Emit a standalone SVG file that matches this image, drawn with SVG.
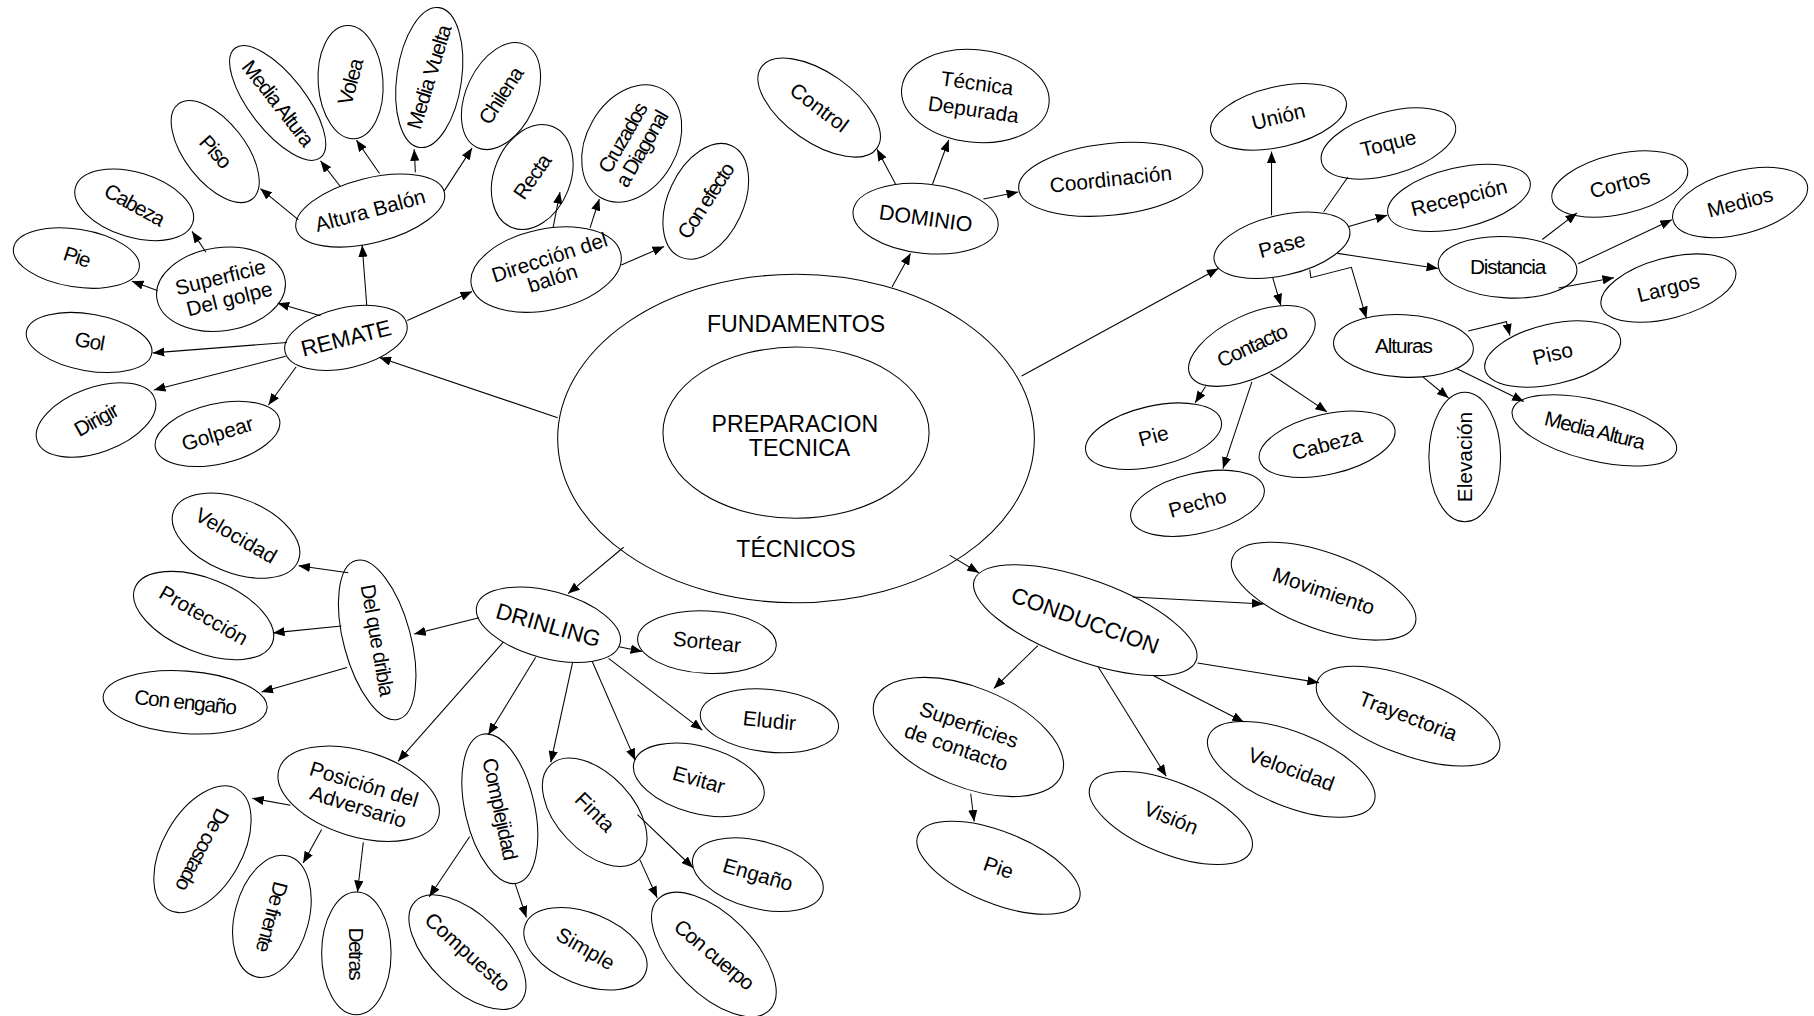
<svg xmlns="http://www.w3.org/2000/svg" width="1814" height="1016" viewBox="0 0 1814 1016">
<defs>
<style>
.n ellipse{fill:#fff;stroke:#000;stroke-width:0.9}
text{font-family:"Liberation Sans",Arial,sans-serif;font-size:18px;text-anchor:middle;fill:#000}
.k text{letter-spacing:-1px}
.kk text{letter-spacing:-1.4px}
.big{font-size:20px}
.cap text{font-size:19.5px}
#connectors line,#connectors polyline{stroke:#000;stroke-width:0.9;fill:none;marker-end:url(#ah)}
#connectors .plain{marker-end:none}
</style>
<marker id="ah" viewBox="0 0 10 8" refX="10" refY="4" markerWidth="10" markerHeight="8" markerUnits="userSpaceOnUse" orient="auto"><path d="M0,0L10,4L0,8z" fill="#000"/></marker>
</defs>
<rect width="1814" height="1016" fill="#fff"/>
<g transform="scale(1.157)">
<g id="fundamentos" class="n" transform="translate(688,379)"><ellipse rx="206" ry="142"/><text class="big" y="-92">FUNDAMENTOS</text><text class="big" y="102">TÉCNICOS</text></g>
<g id="preparacion" class="n" transform="translate(688,374)"><ellipse rx="115" ry="74"/><text class="big" x="-1" y="-1">PREPARACION</text><text class="big" x="3" y="20">TECNICA</text></g>

<g id="remate" class="n cap" transform="translate(299,292)"><ellipse rx="54" ry="26" transform="rotate(-13)"/><text transform="rotate(-14)" y="7">REMATE</text></g>
<g id="superficie" class="n" transform="translate(191,250)"><ellipse rx="56" ry="36" transform="rotate(-8)"/><text transform="rotate(-14)"><tspan x="2" y="-4">Superficie</tspan><tspan x="5" y="16">Del golpe</tspan></text></g>
<g id="altura-balon" class="n" transform="translate(320,182)"><ellipse rx="66" ry="28" transform="rotate(-14)"/><text transform="rotate(-15)" y="6">Altura Balón</text></g>
<g id="direccion" class="n" transform="translate(472,233)"><ellipse rx="66" ry="35" transform="rotate(-12)"/><text transform="rotate(-18)"><tspan x="6" y="-3">Dirección del</tspan><tspan x="3" y="15">balón</tspan></text></g>
<g id="pie-remate" class="n k" transform="translate(66,223)"><ellipse rx="55" ry="25" transform="rotate(9)"/><text transform="rotate(18)" y="5">Pie</text></g>
<g id="cabeza-remate" class="n k" transform="translate(116,177)"><ellipse rx="53" ry="28" transform="rotate(17)"/><text transform="rotate(29)" y="6">Cabeza</text></g>
<g id="piso-altura" class="n k" transform="translate(186,131)"><ellipse rx="52" ry="26" transform="rotate(52)"/><text transform="rotate(48)" y="6">Piso</text></g>
<g id="media-altura-altura" class="n k" transform="translate(240,89)"><ellipse rx="60" ry="24" transform="rotate(52)"/><text transform="rotate(52)" y="6">Media Altura</text></g>
<g id="volea" class="n k" transform="translate(303,71)"><ellipse rx="28" ry="49" transform="rotate(-4)"/><text transform="rotate(-75)" y="6">Volea</text></g>
<g id="media-vuelta" class="n k" transform="translate(371,67)"><ellipse rx="28" ry="61" transform="rotate(8)"/><text transform="rotate(-73)" y="6">Media Vuelta</text></g>
<g id="chilena" class="n k" transform="translate(433,83)"><ellipse rx="30" ry="49" transform="rotate(25)"/><text transform="rotate(-57)" y="6">Chilena</text></g>
<g id="gol" class="n k" transform="translate(77,296)"><ellipse rx="55" ry="24.5" transform="rotate(10)"/><text transform="rotate(10)" y="5">Gol</text></g>
<g id="dirigir" class="n k" transform="translate(83,363)"><ellipse rx="54" ry="28" transform="rotate(-20)"/><text transform="rotate(-29)" y="6">Dirigir</text></g>
<g id="golpear" class="n" transform="translate(188,375)"><ellipse rx="55" ry="26" transform="rotate(-13)"/><text transform="rotate(-17)" y="6">Golpear</text></g>
<g id="recta" class="n k" transform="translate(460,153)"><ellipse rx="33" ry="47" transform="rotate(22)"/><text transform="rotate(-55)" y="6">Recta</text></g>
<g id="cruzados" class="n kk" transform="translate(546,124)"><ellipse rx="39" ry="54" transform="rotate(30)"/><text transform="rotate(-60)"><tspan x="0" y="-3">Cruzados</tspan><tspan x="0" y="16">a Diagonal</tspan></text></g>
<g id="con-efecto" class="n kk" transform="translate(610,174)"><ellipse rx="32.5" ry="53" transform="rotate(25)"/><text transform="rotate(-57)" y="6">Con efecto</text></g>

<g id="dominio" class="n" transform="translate(800,189)"><ellipse rx="63" ry="30" transform="rotate(6)"/><text transform="rotate(8)" y="6" style="font-size:18.5px">DOMINIO</text></g>
<g id="control" class="n" transform="translate(708,93)"><ellipse rx="61" ry="30" transform="rotate(35)"/><text transform="rotate(37)" y="6">Control</text></g>
<g id="tecnica-depurada" class="n" transform="translate(843,83)"><ellipse rx="64" ry="40" transform="rotate(6)"/><text transform="rotate(8)"><tspan x="0" y="-5">Técnica</tspan><tspan x="0" y="18">Depurada</tspan></text></g>
<g id="coordinacion" class="n" transform="translate(960,155)"><ellipse rx="80" ry="31" transform="rotate(-6)"/><text transform="rotate(-6)" y="6">Coordinación</text></g>

<g id="pase" class="n" transform="translate(1108,212)"><ellipse rx="60" ry="26" transform="rotate(-13)"/><text transform="rotate(-15)" y="6">Pase</text></g>
<g id="union" class="n" transform="translate(1105,101)"><ellipse rx="60" ry="26" transform="rotate(-13)"/><text transform="rotate(-14)" y="6">Unión</text></g>
<g id="toque" class="n" transform="translate(1200,124)"><ellipse rx="60" ry="27" transform="rotate(-16)"/><text transform="rotate(-14)" y="6">Toque</text></g>
<g id="recepcion" class="n" transform="translate(1261,171)"><ellipse rx="63" ry="26" transform="rotate(-13)"/><text transform="rotate(-14)" y="6">Recepción</text></g>
<g id="distancia" class="n k" transform="translate(1303,231)"><ellipse rx="60" ry="26.5" transform="rotate(3)"/><text y="6">Distancia</text></g>
<g id="cortos" class="n" transform="translate(1400,159)"><ellipse rx="60" ry="26" transform="rotate(-13)"/><text transform="rotate(-15)" y="6">Cortos</text></g>
<g id="medios" class="n" transform="translate(1504,175)"><ellipse rx="60" ry="27" transform="rotate(-15)"/><text transform="rotate(-15)" y="6">Medios</text></g>
<g id="largos" class="n" transform="translate(1442,249)"><ellipse rx="60" ry="26" transform="rotate(-15)"/><text transform="rotate(-14)" y="6">Largos</text></g>
<g id="contacto" class="n k" transform="translate(1082,299)"><ellipse rx="59" ry="27" transform="rotate(-25)"/><text transform="rotate(-25)" y="6">Contacto</text></g>
<g id="alturas" class="n k" transform="translate(1213,299)"><ellipse rx="60.5" ry="27" transform="rotate(3)"/><text y="6">Alturas</text></g>
<g id="piso-pase" class="n" transform="translate(1342,306)"><ellipse rx="60" ry="26" transform="rotate(-13)"/><text transform="rotate(-13)" y="6">Piso</text></g>
<g id="media-altura-pase" class="n k" transform="translate(1378,372)"><ellipse rx="73" ry="26" transform="rotate(14)"/><text transform="rotate(14)" y="6">Media Altura</text></g>
<g id="elevacion" class="n" transform="translate(1266,395)"><ellipse rx="31" ry="56"/><text transform="rotate(-90)" y="6">Elevación</text></g>
<g id="pie-contacto" class="n" transform="translate(997,377)"><ellipse rx="60" ry="26" transform="rotate(-13)"/><text transform="rotate(-15)" y="6">Pie</text></g>
<g id="pecho" class="n" transform="translate(1035,435)"><ellipse rx="59" ry="26" transform="rotate(-13)"/><text transform="rotate(-16)" y="6">Pecho</text></g>
<g id="cabeza-contacto" class="n" transform="translate(1147,384)"><ellipse rx="60" ry="26" transform="rotate(-13)"/><text transform="rotate(-15)" y="6">Cabeza</text></g>

<g id="conduccion" class="n cap" transform="translate(938,536)"><ellipse rx="102" ry="35" transform="rotate(20)"/><text transform="rotate(20)" y="7">CONDUCCION</text></g>
<g id="movimiento" class="n" transform="translate(1144,511)"><ellipse rx="84" ry="33" transform="rotate(20)"/><text transform="rotate(19)" y="6">Movimiento</text></g>
<g id="trayectoria" class="n" transform="translate(1217,619)"><ellipse rx="84" ry="33" transform="rotate(21)"/><text transform="rotate(21)" y="6">Trayectoria</text></g>
<g id="velocidad-conduccion" class="n" transform="translate(1116,665)"><ellipse rx="77" ry="32" transform="rotate(22)"/><text transform="rotate(20)" y="6">Velocidad</text></g>
<g id="vision" class="n" transform="translate(1012,707)"><ellipse rx="75" ry="31" transform="rotate(22)"/><text transform="rotate(22)" y="6">Visión</text></g>
<g id="superficies" class="n" transform="translate(837,637)"><ellipse rx="87" ry="43" transform="rotate(22)"/><text transform="rotate(19)"><tspan x="-3" y="-4">Superficies</tspan><tspan x="-7" y="18">de contacto</tspan></text></g>
<g id="pie-superficies" class="n" transform="translate(863,750)"><ellipse rx="75" ry="31" transform="rotate(22)"/><text transform="rotate(19)" y="6">Pie</text></g>

<g id="drinling" class="n cap" transform="translate(474,540)"><ellipse rx="64" ry="29" transform="rotate(15)"/><text transform="rotate(16)" y="7">DRINLING</text></g>
<g id="del-que-dribla" class="n k" transform="translate(326,553)"><ellipse rx="29" ry="71" transform="rotate(-15)"/><text transform="rotate(80)" y="6">Del que dribla</text></g>
<g id="velocidad-drinling" class="n" transform="translate(204,463)"><ellipse rx="58" ry="32" transform="rotate(22)"/><text transform="rotate(30)" y="6">Velocidad</text></g>
<g id="proteccion" class="n" transform="translate(176,532)"><ellipse rx="64" ry="32" transform="rotate(22)"/><text transform="rotate(30)" y="6">Protección</text></g>
<g id="con-engano" class="n k" transform="translate(160,607)"><ellipse rx="71" ry="27" transform="rotate(4)"/><text transform="rotate(6)" y="6">Con engaño</text></g>
<g id="sortear" class="n" transform="translate(611,555)"><ellipse rx="60" ry="27" transform="rotate(3)"/><text transform="rotate(6)" y="6">Sortear</text></g>
<g id="eludir" class="n" transform="translate(665,623)"><ellipse rx="60" ry="27" transform="rotate(6)"/><text transform="rotate(6)" y="6">Eludir</text></g>
<g id="evitar" class="n" transform="translate(604,674)"><ellipse rx="58" ry="29" transform="rotate(15)"/><text transform="rotate(16)" y="6">Evitar</text></g>
<g id="engano" class="n" transform="translate(655,756)"><ellipse rx="58" ry="29" transform="rotate(15)"/><text transform="rotate(16)" y="6">Engaño</text></g>
<g id="con-cuerpo" class="n k" transform="translate(617,825)"><ellipse rx="34" ry="68" transform="rotate(-45)"/><text transform="rotate(40)" y="6">Con cuerpo</text></g>
<g id="finta" class="n" transform="translate(514,702)"><ellipse rx="33" ry="56" transform="rotate(-43)"/><text transform="rotate(45)" y="6">Finta</text></g>
<g id="complejidad" class="n k" transform="translate(432,699)"><ellipse rx="30" ry="66" transform="rotate(-13)"/><text transform="rotate(78)" y="6">Complejidad</text></g>
<g id="simple" class="n" transform="translate(506,820)"><ellipse rx="56" ry="31" transform="rotate(22)"/><text transform="rotate(30)" y="6">Simple</text></g>
<g id="compuesto" class="n" transform="translate(404,823)"><ellipse rx="32" ry="63" transform="rotate(-46)"/><text transform="rotate(42)" y="6">Compuesto</text></g>
<g id="posicion" class="n" transform="translate(310,686)"><ellipse rx="72" ry="37" transform="rotate(17)"/><text transform="rotate(17)"><tspan x="2" y="-3">Posición del</tspan><tspan x="3" y="17">Adversario</tspan></text></g>
<g id="de-costado" class="n kk" transform="translate(175,734)"><ellipse rx="34" ry="60" transform="rotate(30)"/><text transform="rotate(118)" y="6">De costado</text></g>
<g id="de-frente" class="n kk" transform="translate(235,792)"><ellipse rx="32" ry="54" transform="rotate(15)"/><text transform="rotate(105)" y="6">De frente</text></g>
<g id="detras" class="n kk" transform="translate(308,824)"><ellipse rx="30" ry="53"/><text transform="rotate(90)" y="6">Detras</text></g>

<g id="connectors">
<line x1="482" y1="361" x2="328" y2="309"/>
<line x1="317" y1="264" x2="313" y2="212"/>
<line x1="277" y1="273" x2="240" y2="262"/>
<line x1="248" y1="296" x2="132" y2="305"/>
<line x1="247" y1="308" x2="133" y2="337"/>
<line x1="256" y1="317" x2="232" y2="350"/>
<line x1="352" y1="277" x2="408" y2="252"/>
<line x1="136" y1="251" x2="114" y2="243"/>
<line x1="178" y1="218" x2="166" y2="200"/>
<line x1="258" y1="190" x2="225" y2="163"/>
<line x1="294" y1="161" x2="277" y2="139"/>
<line x1="328" y1="150" x2="308" y2="121"/>
<line x1="359" y1="149" x2="358" y2="129"/>
<line x1="384" y1="165" x2="408" y2="128"/>
<line x1="478" y1="197" x2="484" y2="166"/>
<line x1="510" y1="197" x2="518" y2="172"/>
<line x1="537" y1="229" x2="574" y2="213"/>
<line x1="771" y1="248" x2="787" y2="219"/>
<line x1="774" y1="159" x2="758" y2="129"/>
<line x1="806" y1="159" x2="820" y2="121"/>
<line x1="850" y1="172" x2="880" y2="166"/>
<line x1="883" y1="325" x2="1053" y2="232"/>
<line x1="1099" y1="186" x2="1099" y2="131"/>
<line class="plain" x1="1144" y1="183" x2="1165" y2="153"/>
<line x1="1165" y1="196" x2="1199" y2="186"/>
<line x1="1156" y1="219" x2="1243" y2="232"/>
<line x1="1100" y1="240" x2="1107" y2="264"/>
<polyline points="1132,233 1133,240 1168,231 1181,275"/>
<line x1="1333" y1="207" x2="1363" y2="184"/>
<line x1="1364" y1="228" x2="1445" y2="190"/>
<line x1="1347" y1="249" x2="1395" y2="240"/>
<polyline points="1269,286 1302,278 1305,290"/>
<line x1="1230" y1="326" x2="1252" y2="344"/>
<line x1="1258" y1="318" x2="1317" y2="347"/>
<line x1="1042" y1="334" x2="1033" y2="348"/>
<line x1="1082" y1="330" x2="1057" y2="405"/>
<line x1="1098" y1="323" x2="1147" y2="356"/>
<line x1="821" y1="480" x2="846" y2="495"/>
<line x1="979" y1="516" x2="1092" y2="522"/>
<line x1="1035" y1="573" x2="1140" y2="590"/>
<line x1="997" y1="584" x2="1075" y2="624"/>
<line x1="949" y1="576" x2="1008" y2="671"/>
<line x1="897" y1="558" x2="859" y2="595"/>
<line x1="839" y1="686" x2="842" y2="710"/>
<line x1="539" y1="473" x2="491" y2="513"/>
<line x1="414" y1="534" x2="358" y2="548"/>
<line x1="301" y1="495" x2="258" y2="489"/>
<line x1="295" y1="541" x2="236" y2="547"/>
<line x1="300" y1="577" x2="226" y2="598"/>
<line x1="535" y1="559" x2="555" y2="563"/>
<line x1="435" y1="555" x2="344" y2="658"/>
<line x1="463" y1="568" x2="422" y2="635"/>
<line x1="495" y1="572" x2="476" y2="659"/>
<line x1="512" y1="572" x2="549" y2="657"/>
<line x1="526" y1="569" x2="607" y2="631"/>
<line x1="551" y1="704" x2="599" y2="750"/>
<line x1="553" y1="743" x2="568" y2="776"/>
<line x1="406" y1="723" x2="371" y2="775"/>
<line x1="445" y1="763" x2="455" y2="793"/>
<line x1="251" y1="696" x2="218" y2="690"/>
<line x1="278" y1="717" x2="262" y2="746"/>
<line x1="314" y1="728" x2="309" y2="771"/>
</g>
</g>
</svg>
